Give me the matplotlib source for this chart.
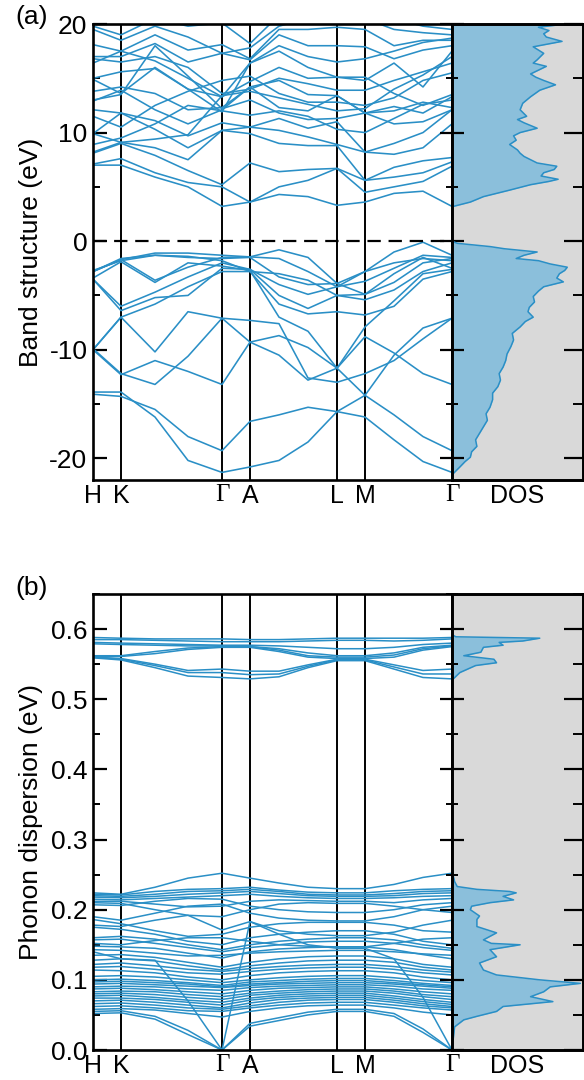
import matplotlib
matplotlib.use('Agg')
import matplotlib.pyplot as plt
from matplotlib.ticker import MultipleLocator

plt.rcParams['font.family'] = ['Liberation Sans', 'DejaVu Sans']
plt.rcParams['axes.unicode_minus'] = False

BLUE = '#2a8fc6'
FILL = '#8bbfdb'
GREY = '#d9d9d9'

# k-path sample positions: H, K, (K-G 1/3, 2/3), G, A, (A-L 1/3, 2/3), L, M, (M-G 1/3, 2/3), G
kpath = [0, 28, 62, 95, 129, 157, 186, 215, 244, 272, 301, 330, 359]
sym_pos = [0, 28, 129, 157, 244, 272, 359]
sym_labels = ['H', 'K', 'Γ', 'A', 'L', 'M', 'Γ']

# electronic bands (eV)
conduction_bands = [
    [7.0, 7.0, 5.9, 5.0, 3.2, 3.6, 4.3, 4.1, 3.3, 3.6, 4.4, 4.6, 3.2],
    [7.1, 7.6, 6.3, 5.4, 5.0, 3.6, 5.0, 5.6, 6.7, 4.5, 5.0, 5.5, 6.9],
    [8.1, 9.0, 7.9, 6.5, 5.2, 7.2, 6.4, 6.6, 6.7, 5.6, 5.9, 6.3, 7.3],
    [8.2, 9.1, 8.6, 7.5, 10.2, 9.9, 9.0, 8.8, 8.8, 5.6, 6.8, 7.4, 7.7],
    [9.9, 11.8, 10.3, 8.6, 10.2, 10.5, 10.2, 9.6, 8.9, 8.2, 8.0, 8.6, 10.8],
    [12.1, 11.8, 11.1, 9.7, 10.9, 10.5, 11.3, 10.4, 11.0, 8.2, 9.0, 10.0, 12.1],
    [12.9, 13.9, 12.1, 10.8, 12.1, 14.2, 12.3, 12.0, 13.4, 11.8, 10.8, 11.0, 12.1],
    [13.8, 14.2, 13.6, 12.1, 12.3, 14.2, 14.8, 13.5, 13.4, 11.8, 12.4, 11.8, 13.3],
    [15.0, 15.6, 15.9, 14.0, 13.3, 14.7, 16.0, 15.0, 15.1, 15.1, 13.6, 12.5, 13.5],
    [16.4, 17.5, 16.6, 15.0, 13.3, 16.4, 17.5, 16.0, 15.1, 14.8, 16.4, 14.2, 17.5],
    [17.0, 17.0, 18.2, 16.5, 17.3, 16.7, 19.0, 18.0, 18.0, 17.9, 16.8, 17.6, 18.0],
    [18.1, 17.5, 19.0, 17.6, 18.1, 16.8, 19.5, 19.5, 19.7, 19.5, 18.0, 18.5, 18.5],
    [19.8, 19.0, 20.5, 19.8, 20.1, 18.2, 20.8, 20.6, 20.8, 20.5, 19.5, 19.2, 19.0],
    [13.0, 13.5, 18.0, 15.2, 12.2, 13.0, 11.8, 11.2, 11.3, 11.8, 12.0, 12.8, 12.3],
    [14.9, 13.6, 16.0, 14.0, 11.9, 16.4, 18.0, 17.0, 16.5, 16.8, 17.5, 18.3, 18.7],
    [9.9, 9.1, 9.4, 9.8, 13.4, 13.8, 13.2, 12.6, 12.0, 12.2, 14.0, 15.3, 17.0],
    [19.5, 18.5, 19.8, 18.8, 17.3, 17.8, 19.8, 20.5, 21.0, 21.0, 20.5, 19.8, 19.5],
    [16.8, 16.5, 17.0, 16.0, 13.6, 14.0, 15.0, 14.5, 13.9, 13.9, 14.8, 15.6, 16.4],
    [11.5, 10.5, 12.5, 13.8, 14.8, 15.2, 13.6, 12.8, 12.8, 12.5, 13.2, 14.8, 15.5],
    [8.9, 9.5, 10.8, 12.5, 12.0, 11.6, 12.0, 11.5, 10.3, 10.0, 11.3, 12.6, 13.0],
]

valence_bands = [
    [-2.8, -1.7, -1.1, -1.1, -1.3, -1.45, -0.8, -1.5, -3.9, -2.8, -1.0, -0.1, -1.3],
    [-2.8, -1.7, -3.6, -2.4, -1.5, -1.45, -1.6, -2.8, -4.2, -3.7, -2.5, -1.3, -1.5],
    [-2.7, -1.8, -1.3, -1.5, -1.6, -1.5, -3.3, -4.0, -3.9, -4.9, -3.8, -2.0, -1.6],
    [-3.5, -6.0, -4.7, -3.3, -2.0, -2.6, -4.0, -4.9, -4.2, -2.8, -2.0, -1.6, -1.8],
    [-3.5, -6.4, -5.2, -5.0, -2.5, -2.6, -5.0, -6.2, -5.0, -5.4, -4.5, -2.8, -2.0],
    [-10.0, -7.0, -5.8, -4.2, -2.8, -2.8, -5.8, -6.7, -6.5, -6.8, -6.0, -3.5, -2.8],
    [-10.0, -7.0, -10.2, -6.5, -7.1, -9.3, -8.7, -9.8, -11.7, -8.8, -10.3, -12.2, -13.2],
    [-10.0, -12.3, -11.0, -12.0, -13.2, -9.3, -10.5, -12.8, -11.7, -7.9, -5.5, -3.0, -2.6],
    [-2.8, -1.6, -1.3, -1.4, -1.8, -2.8, -3.0, -3.6, -5.0, -4.9, -3.0, -1.5, -2.5],
    [-3.4, -1.9, -3.8, -2.0, -2.3, -2.7, -7.0, -8.3, -11.7, -14.2, -16.0, -18.0, -19.3],
    [-14.1, -14.3, -15.5, -18.0, -19.3, -16.6, -16.0, -15.3, -15.7, -16.2, -18.3, -20.3, -21.3],
    [-13.9, -13.9, -16.2, -20.2, -21.3, -20.8, -20.2, -18.5, -15.7, -14.2, -10.5, -8.0, -7.1],
    [-9.9, -12.2, -13.2, -10.6, -7.1, -7.3, -7.6, -12.6, -13.0, -12.2, -11.0, -9.0, -7.1],
]

# electronic DOS (energy in eV, DOS in fraction of panel width)
edos_energy = [-22.0, -21.4, -20.8, -20.3, -19.9, -19.4, -18.9, -18.3, -17.7, -17.1, -16.5,
               -15.9, -15.3, -14.6, -14.0, -13.4, -12.8, -12.2, -11.6, -11.0, -10.4, -9.7,
               -9.1, -8.5, -7.9, -7.4, -7.0, -6.5, -6.1, -5.6, -5.1, -4.6, -4.2, -3.75,
               -3.4, -3.0, -2.7, -2.4, -2.1, -1.8, -1.6, -1.3, -1.0, -0.7, -0.5, -0.2,
               0.0, 3.1, 3.2, 3.6, 4.1, 4.7, 5.2, 5.5, 5.7, 6.0, 6.3, 6.6, 6.9, 7.2,
               7.5, 7.8, 8.1, 8.4, 8.9, 9.3, 9.7, 10.0, 10.4, 10.9, 11.2, 11.5, 12.1,
               12.7, 13.3, 13.9, 14.4, 14.8, 15.1, 15.4, 16.1, 16.4, 16.7, 17.3, 17.9,
               18.4, 18.8, 19.1, 19.4, 19.7, 19.9, 20.0]
edos_value = [0.0, 0.01, 0.06, 0.10, 0.14, 0.15, 0.19, 0.18, 0.21, 0.24, 0.27,
              0.26, 0.29, 0.31, 0.31, 0.35, 0.37, 0.36, 0.39, 0.41, 0.42, 0.45,
              0.47, 0.46, 0.52, 0.56, 0.62, 0.58, 0.59, 0.63, 0.62, 0.66, 0.70, 0.85,
              0.80, 0.82, 0.86, 0.88, 0.75, 0.66, 0.49, 0.55, 0.65, 0.40, 0.29, 0.04,
              0.0, 0.0, 0.01, 0.14, 0.24, 0.44, 0.60, 0.74, 0.81, 0.68, 0.70, 0.78, 0.80,
              0.65, 0.60, 0.55, 0.52, 0.50, 0.44, 0.49, 0.47, 0.52, 0.65, 0.55, 0.50,
              0.57, 0.52, 0.54, 0.60, 0.67, 0.79, 0.70, 0.64, 0.60, 0.72, 0.62, 0.65,
              0.70, 0.62, 0.84, 0.72, 0.70, 0.74, 0.66, 0.80, 0.78]

# phonon branches (eV)
phonon_high = [
    [0.588, 0.587, 0.586, 0.586, 0.586, 0.585, 0.585, 0.586, 0.587, 0.587, 0.587, 0.587, 0.588],
    [0.585, 0.585, 0.584, 0.583, 0.582, 0.582, 0.582, 0.583, 0.584, 0.584, 0.583, 0.584, 0.586],
    [0.581, 0.580, 0.579, 0.578, 0.577, 0.577, 0.576, 0.574, 0.572, 0.572, 0.574, 0.578, 0.580],
    [0.579, 0.578, 0.577, 0.576, 0.576, 0.575, 0.572, 0.566, 0.562, 0.562, 0.566, 0.574, 0.577],
    [0.562, 0.562, 0.568, 0.573, 0.575, 0.575, 0.570, 0.562, 0.560, 0.560, 0.563, 0.572, 0.576],
    [0.561, 0.561, 0.565, 0.571, 0.574, 0.574, 0.568, 0.560, 0.558, 0.558, 0.560, 0.570, 0.575],
    [0.560, 0.558, 0.550, 0.541, 0.543, 0.540, 0.540, 0.549, 0.557, 0.557, 0.549, 0.541, 0.543],
    [0.560, 0.557, 0.548, 0.538, 0.538, 0.535, 0.536, 0.547, 0.556, 0.556, 0.546, 0.536, 0.536],
    [0.559, 0.556, 0.545, 0.533, 0.531, 0.529, 0.532, 0.545, 0.555, 0.555, 0.543, 0.531, 0.529],
]

phonon_low = [
    [0.224, 0.222, 0.232, 0.245, 0.252, 0.245, 0.238, 0.232, 0.230, 0.230, 0.236, 0.246, 0.252],
    [0.222, 0.221, 0.226, 0.229, 0.230, 0.232, 0.228, 0.225, 0.224, 0.224, 0.227, 0.229, 0.230],
    [0.220, 0.219, 0.222, 0.226, 0.227, 0.229, 0.226, 0.222, 0.221, 0.221, 0.223, 0.226, 0.227],
    [0.218, 0.217, 0.219, 0.222, 0.224, 0.226, 0.223, 0.220, 0.219, 0.219, 0.220, 0.223, 0.224],
    [0.215, 0.214, 0.216, 0.218, 0.220, 0.222, 0.219, 0.217, 0.216, 0.216, 0.217, 0.219, 0.220],
    [0.212, 0.212, 0.208, 0.204, 0.205, 0.212, 0.214, 0.213, 0.212, 0.212, 0.210, 0.214, 0.216],
    [0.210, 0.209, 0.200, 0.192, 0.190, 0.200, 0.208, 0.210, 0.209, 0.209, 0.205, 0.200, 0.196],
    [0.207, 0.206, 0.212, 0.216, 0.215, 0.205, 0.200, 0.197, 0.196, 0.196, 0.200, 0.207, 0.210],
    [0.190, 0.185, 0.195, 0.205, 0.208, 0.195, 0.188, 0.185, 0.184, 0.184, 0.190, 0.200, 0.205],
    [0.186, 0.180, 0.170, 0.162, 0.165, 0.175, 0.180, 0.182, 0.182, 0.182, 0.178, 0.170, 0.168],
    [0.178, 0.176, 0.185, 0.192, 0.171, 0.183, 0.170, 0.165, 0.163, 0.163, 0.168, 0.178, 0.185],
    [0.175, 0.172, 0.165, 0.155, 0.150, 0.160, 0.165, 0.168, 0.170, 0.170, 0.165, 0.155, 0.150],
    [0.160, 0.162, 0.158, 0.150, 0.143, 0.150, 0.155, 0.158, 0.160, 0.160, 0.157, 0.150, 0.145],
    [0.157, 0.158, 0.152, 0.146, 0.140, 0.146, 0.150, 0.154, 0.155, 0.155, 0.152, 0.146, 0.142],
    [0.152, 0.150, 0.156, 0.160, 0.160, 0.155, 0.150, 0.148, 0.147, 0.147, 0.152, 0.158, 0.160],
    [0.148, 0.147, 0.145, 0.138, 0.131, 0.140, 0.144, 0.146, 0.147, 0.147, 0.143, 0.136, 0.130],
    [0.143, 0.142, 0.138, 0.134, 0.135, 0.138, 0.140, 0.141, 0.142, 0.142, 0.140, 0.137, 0.135],
    [0.135, 0.136, 0.132, 0.125, 0.118, 0.125, 0.130, 0.133, 0.134, 0.134, 0.130, 0.122, 0.118],
    [0.128, 0.130, 0.127, 0.120, 0.114, 0.120, 0.124, 0.127, 0.128, 0.128, 0.125, 0.118, 0.114],
    [0.122, 0.124, 0.120, 0.115, 0.112, 0.116, 0.119, 0.121, 0.122, 0.122, 0.119, 0.114, 0.111],
    [0.118, 0.119, 0.115, 0.110, 0.108, 0.112, 0.115, 0.117, 0.118, 0.118, 0.115, 0.110, 0.107],
    [0.114, 0.113, 0.110, 0.104, 0.100, 0.106, 0.110, 0.112, 0.113, 0.113, 0.110, 0.104, 0.100],
    [0.105, 0.106, 0.104, 0.100, 0.096, 0.100, 0.103, 0.105, 0.106, 0.106, 0.103, 0.099, 0.096],
    [0.100, 0.101, 0.099, 0.096, 0.092, 0.097, 0.099, 0.101, 0.102, 0.102, 0.099, 0.095, 0.092],
    [0.097, 0.098, 0.096, 0.094, 0.090, 0.094, 0.096, 0.098, 0.099, 0.099, 0.096, 0.093, 0.090],
    [0.094, 0.095, 0.093, 0.091, 0.089, 0.092, 0.094, 0.095, 0.096, 0.096, 0.094, 0.091, 0.088],
    [0.090, 0.091, 0.090, 0.087, 0.085, 0.089, 0.091, 0.092, 0.093, 0.093, 0.091, 0.087, 0.085],
    [0.087, 0.088, 0.086, 0.083, 0.080, 0.085, 0.088, 0.089, 0.090, 0.090, 0.087, 0.083, 0.080],
    [0.083, 0.084, 0.083, 0.079, 0.076, 0.081, 0.084, 0.086, 0.087, 0.087, 0.084, 0.079, 0.076],
    [0.080, 0.081, 0.079, 0.075, 0.072, 0.078, 0.081, 0.083, 0.084, 0.084, 0.081, 0.076, 0.072],
    [0.077, 0.078, 0.075, 0.071, 0.068, 0.074, 0.078, 0.080, 0.081, 0.081, 0.077, 0.072, 0.068],
    [0.074, 0.074, 0.072, 0.068, 0.064, 0.071, 0.075, 0.077, 0.078, 0.078, 0.074, 0.069, 0.065],
    [0.070, 0.071, 0.068, 0.064, 0.060, 0.067, 0.072, 0.074, 0.075, 0.075, 0.071, 0.066, 0.062],
    [0.066, 0.067, 0.064, 0.060, 0.058, 0.063, 0.068, 0.071, 0.072, 0.072, 0.068, 0.063, 0.060],
    [0.062, 0.063, 0.060, 0.056, 0.055, 0.060, 0.064, 0.067, 0.068, 0.068, 0.064, 0.060, 0.057],
    [0.058, 0.059, 0.057, 0.052, 0.047, 0.055, 0.060, 0.063, 0.064, 0.064, 0.060, 0.054, 0.050],
    [0.055, 0.056, 0.048, 0.028, 0.0, 0.038, 0.046, 0.054, 0.058, 0.058, 0.052, 0.030, 0.0],
    [0.052, 0.053, 0.044, 0.022, 0.0, 0.034, 0.042, 0.050, 0.055, 0.055, 0.048, 0.025, 0.0],
    [0.140, 0.130, 0.128, 0.070, 0.0, 0.183, 0.165, 0.150, 0.145, 0.145, 0.130, 0.075, 0.0],
]

# phonon DOS
pdos_energy = [0.0, 0.033, 0.043, 0.048, 0.055, 0.062, 0.069, 0.076, 0.083, 0.090, 0.095,
               0.100, 0.107, 0.114, 0.124, 0.133, 0.143, 0.150, 0.152, 0.157, 0.162, 0.167,
               0.176, 0.186, 0.191, 0.200, 0.205, 0.210, 0.214, 0.219, 0.224, 0.226, 0.229,
               0.233, 0.240, 0.248, 0.255, 0.525, 0.529, 0.538, 0.548, 0.552, 0.557, 0.562,
               0.567, 0.574, 0.577, 0.581, 0.583, 0.587, 0.589, 0.592]
pdos_value = [0.0, 0.02, 0.09, 0.19, 0.34, 0.39, 0.77, 0.60, 0.70, 0.75, 0.98,
              0.67, 0.34, 0.24, 0.21, 0.34, 0.29, 0.52, 0.30, 0.24, 0.29, 0.34,
              0.19, 0.19, 0.21, 0.14, 0.15, 0.29, 0.47, 0.39, 0.49, 0.44, 0.19,
              0.04, 0.02, 0.01, 0.0, 0.0, 0.01, 0.06, 0.18, 0.34, 0.32, 0.09,
              0.22, 0.24, 0.39, 0.36, 0.54, 0.67, 0.03, 0.0]


def style_band_axes(ax, ylim, major, minor, fmt):
    for x in sym_pos[1:-1]:
        ax.axvline(x, color='black', lw=1.4, zorder=1)
    ax.set_xlim(0, kpath[-1])
    ax.set_ylim(*ylim)
    ax.set_xticks(sym_pos, sym_labels)
    for lab in ax.get_xticklabels():
        if lab.get_text() == 'Γ':
            lab.set_fontfamily('Liberation Serif')
    ax.tick_params(axis='x', length=0, pad=3, labelsize=18)
    ax.yaxis.set_major_locator(MultipleLocator(major))
    ax.yaxis.set_minor_locator(MultipleLocator(minor))
    ax.yaxis.set_major_formatter(fmt)
    ax.tick_params(axis='y', which='major', direction='in', length=10, width=1.6,
                   labelsize=19, pad=4, right=False)
    ax.tick_params(axis='y', which='minor', direction='in', length=5, width=1.4, right=False)
    for s in ax.spines.values():
        s.set_linewidth(1.9)


def style_dos_axes(ax, ylim, major, minor):
    ax.set_facecolor(GREY)
    ax.set_xlim(0, 1)
    ax.set_ylim(*ylim)
    ax.set_xticks([0.5], ['DOS'])
    ax.tick_params(axis='x', length=0, pad=3, labelsize=18)
    ax.yaxis.set_major_locator(MultipleLocator(major))
    ax.yaxis.set_minor_locator(MultipleLocator(minor))
    ax.tick_params(axis='y', which='major', direction='inout', length=17, width=1.6,
                   labelleft=False)
    ax.tick_params(axis='y', which='minor', direction='inout', length=8, width=1.4)
    for s in ax.spines.values():
        s.set_linewidth(1.9)
    rt = ax.twinx()
    rt.set_ylim(*ylim)
    rt.yaxis.set_major_locator(MultipleLocator(major))
    rt.yaxis.set_minor_locator(MultipleLocator(minor))
    rt.tick_params(axis='y', which='major', direction='in', length=14, width=1.6, labelright=False)
    rt.tick_params(axis='y', which='minor', direction='in', length=7, width=1.4)
    for s in rt.spines.values():
        s.set_linewidth(1.9)


fig = plt.figure(figsize=(5.84, 10.8), dpi=100)

# ---- (a) electronic structure ----
ax_a = fig.add_axes([93 / 584, 1 - 480 / 1080, 359 / 584, 456 / 1080])
for band in conduction_bands + valence_bands:
    ax_a.plot(kpath, band, color=BLUE, lw=1.15, zorder=2)
ax_a.axhline(0, color='black', lw=1.6, ls=(0, (6, 3.5)), zorder=3)
style_band_axes(ax_a, (-22, 20), 10, 5, lambda v, p: '%d' % v)
ax_a.set_ylabel('Band structure (eV)', fontsize=19)
ax_a.yaxis.set_label_coords(-0.14, 0.5)

dos_a = fig.add_axes([452 / 584, 1 - 480 / 1080, 131 / 584, 456 / 1080])
dos_a.fill_betweenx(edos_energy, 0, edos_value, color=FILL, lw=0)
dos_a.plot(edos_value, edos_energy, color=BLUE, lw=1.1)
style_dos_axes(dos_a, (-22, 20), 10, 5)

# ---- (b) phonons ----
ax_b = fig.add_axes([93 / 584, 1 - 1050 / 1080, 359 / 584, 456 / 1080])
for band in phonon_high + phonon_low:
    ax_b.plot(kpath, band, color=BLUE, lw=1.1, zorder=2)
style_band_axes(ax_b, (0, 0.65), 0.1, 0.05, lambda v, p: '%.1f' % v)
ax_b.set_ylabel('Phonon dispersion (eV)', fontsize=19)
ax_b.yaxis.set_label_coords(-0.14, 0.5)

dos_b = fig.add_axes([452 / 584, 1 - 1050 / 1080, 131 / 584, 456 / 1080])
dos_b.fill_betweenx(pdos_energy, 0, pdos_value, color=FILL, lw=0)
dos_b.plot(pdos_value, pdos_energy, color=BLUE, lw=1.1)
style_dos_axes(dos_b, (0, 0.65), 0.1, 0.05)

fig.text(15 / 584, 1 - 17 / 1080, '(a)', fontsize=19, va='center')
fig.text(15 / 584, 1 - 588 / 1080, '(b)', fontsize=19, va='center')

fig.savefig('out.png', dpi=100)
